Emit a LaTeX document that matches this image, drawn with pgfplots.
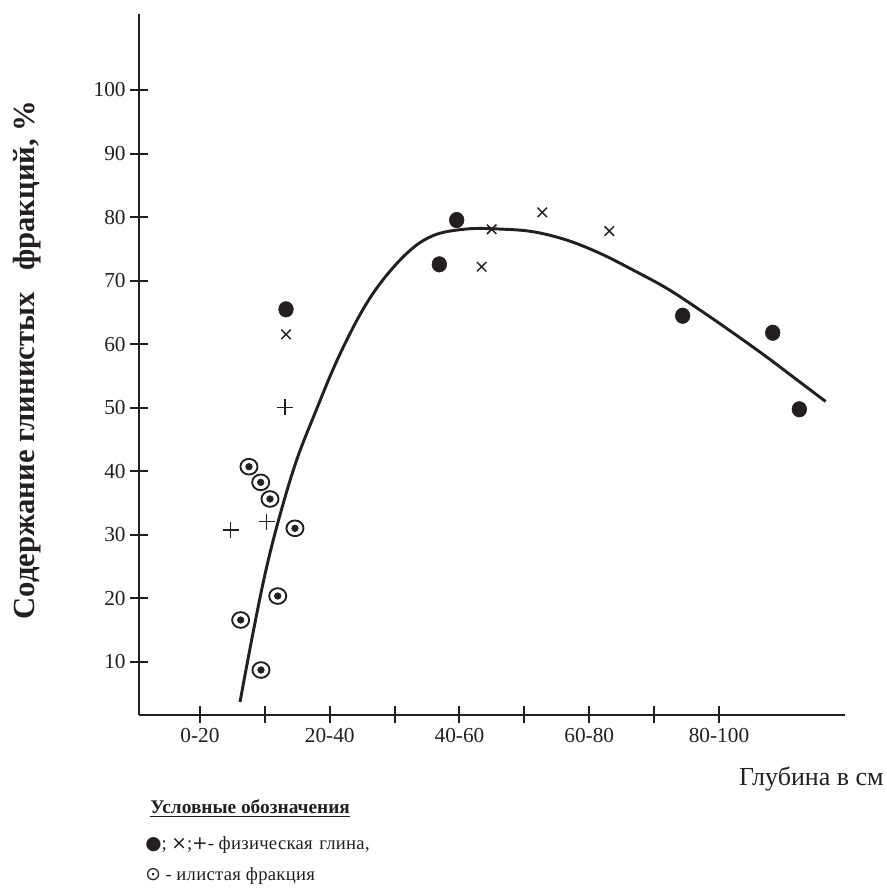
\documentclass[border=0pt]{standalone}
\usepackage{fontspec}
\setmainfont{Liberation Serif}
\newfontfamily\symfont{DejaVu Sans}
\newfontfamily\spaced[LetterSpace=1.5]{Liberation Serif}
\usepackage{pgfplots}
\pgfplotsset{compat=1.18}
\usepackage{pgfplotstable}
\definecolor{ink}{HTML}{231F20}

\pgfplotstableread{
x y
23.26 65.49
49.57 79.54
46.89 72.57
84.40 64.48
98.28 61.81
102.38 49.76
}\filled
\pgfplotstableread{
x y
23.26 61.56
54.96 78.08
53.42 72.19
62.76 80.75
73.09 77.81
}\crosses
\pgfplotstableread{
x y
23.10 50.07
20.28 32.07
14.73 30.77
}\pluses
\pgfplotstableread{
x y
17.55 40.73
19.36 38.27
20.79 35.65
24.64 31.04
21.98 20.38
16.27 16.61
19.40 8.74
}\silt
\pgfplotstableread{
x y
16.17 3.71
18.17 14.56
20.17 24.47
22.33 33.13
24.80 41.47
27.42 48.39
31.58 58.46
36.20 67.27
41.29 73.72
45.76 77.02
51.00 78.12
56.24 78.12
61.33 77.70
66.52 76.39
71.66 74.30
76.74 71.68
81.94 68.80
87.07 65.38
92.16 61.79
97.35 57.99
102.59 53.95
106.44 50.99
}\trend

\begin{document}
\begin{tikzpicture}[x=1pt,y=1pt]
\path[use as bounding box] (-104.25,-133.875) rectangle (560.25,535.875);
\begin{axis}[
  at={(0,0)}, anchor=south west,
  scale only axis, width=529.5pt, height=525.375pt,
  xmin=0.60, xmax=109.42, ymin=1.74, ymax=111.96,
  axis lines=left, axis line style={-, line width=1.5pt, ink},
  xtick={10,20,...,90},
  xticklabels={0-20,,20-40,,40-60,,60-80,,80-100},
  ytick={10,20,...,100},
  tick align=center, major tick length=13pt,
  tick style={line width=1.5pt, ink},
  tick label style={font=\fontsize{16}{18}\selectfont, text=ink},
  /pgf/number format/assume math mode=true,
  clip=false,
  xlabel={Глубина в см},
  xlabel style={at={(axis description cs:1.0552,-0.1020)}, anchor=base east, inner sep=0pt, font=\fontsize{19.5}{22}\selectfont, text=ink},
  ylabel={Содержание глинистых\hspace{0.7em}фракций, \%},
  ylabel style={at={(axis description cs:-0.1586,0.5061)}, anchor=center, rotate=0, font=\fontsize{23}{25}\selectfont\bfseries, text=ink},
]
\addplot[smooth, tension=0.6, line width=2.2pt, ink] table {\trend};
\addplot[only marks, mark=*, mark size=5.5pt, ink, mark options={yscale=1.06}] table {\filled};
\addplot[only marks, mark=x, mark size=5pt, ink, mark options={line width=1.1pt}] table {\crosses};
\addplot[only marks, mark=+, mark size=6pt, ink, mark options={line width=1.1pt}] table {\pluses};
\addplot[only marks, mark=o, mark size=6.4pt, ink, mark options={line width=1.4pt, fill=white, yscale=0.92}] table {\silt};
\addplot[only marks, mark=*, mark size=2.5pt, ink] table {\silt};
\node[anchor=base west, inner sep=0pt, text=ink, font=\fontsize{14.5}{16}\selectfont\bfseries] at (axis description cs:0.0156,-0.142) {\underline{Условные обозначения}};
\node[anchor=base west, inner sep=0pt, text=ink, font=\fontsize{14}{16}\selectfont] at (axis description cs:0.0085,-0.1934) {{\symfont ●}; {\symfont ×};{\symfont +}- {\spaced физическая}\hspace{0.35em}{\spaced глина,}};
\node[anchor=base west, inner sep=0pt, text=ink, font=\fontsize{14}{16}\selectfont] at (axis description cs:0.0085,-0.2363) {{\symfont ⊙} - {\spaced илистая фракция}};
\end{axis}
\end{tikzpicture}
\end{document}
